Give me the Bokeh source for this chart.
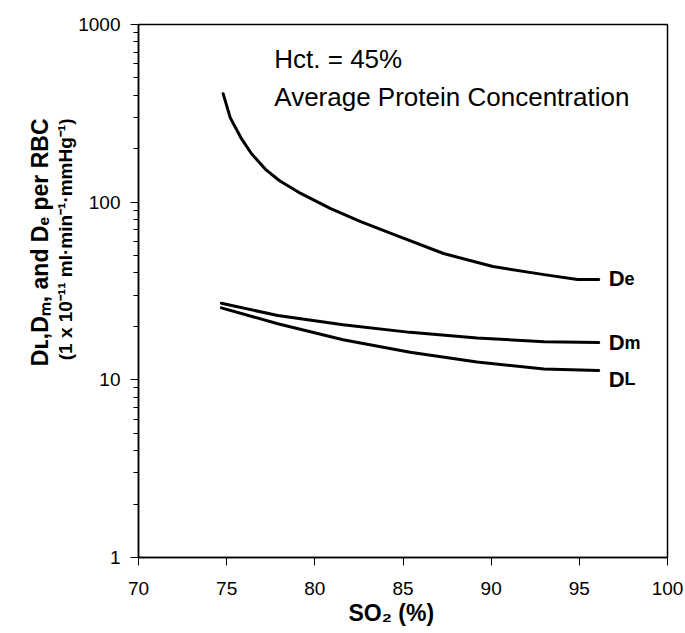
from bokeh.plotting import figure
from bokeh.models import Label, FixedTicker, NumeralTickFormatter, Range1d, Title
from bokeh.embed import file_html
from bokeh.resources import INLINE

# ---- data ----
so2_e = [74.8, 75.2, 75.8, 76.4, 77.2, 78.0, 79.2, 80.9, 82.6, 84.5, 87.3, 90.1, 93.0, 94.9, 96.1]
de = [408, 299, 231, 188, 153, 132, 112, 92, 77.8, 65.7, 51.4, 43.4, 39.1, 36.7, 36.7]
so2_md = [74.7, 77.9, 81.6, 85.4, 89.2, 93.0, 96.1]
dm = [27.0, 23.0, 20.4, 18.5, 17.2, 16.4, 16.2]
dl = [25.4, 20.7, 16.8, 14.3, 12.6, 11.5, 11.3]

x_ticks = [70, 75, 80, 85, 90, 95, 100]
y_ticks = [1, 10, 100, 1000]
y_minor = [k * 10 ** n for n in range(3) for k in range(2, 10)]

y_title_1 = "Dʟ,Dₘ, and Dₑ per RBC"
y_title_2 = "(1 x 10⁻¹¹ ml·min⁻¹·mmHg⁻¹)"
x_title = "SO₂ (%)"

FONT = "Liberation Sans"
WB = {'D': .722, 'e': .556, 'm': .889, 'L': .611}


def tw(s, size):
    return sum(WB.get(c, .556) for c in s) * size


W, H = 685, 633
FL, FT, FR, FB = 138, 24, 18, 76   # frame borders in px
p = figure(width=W, height=H, x_range=Range1d(70, 100), y_range=Range1d(1, 1000),
           y_axis_type="log", output_backend="svg", toolbar_location=None,
           min_border_left=FL, min_border_right=FR, min_border_top=FT, min_border_bottom=FB)
p.grid.visible = False
p.outline_line_color = "black"
p.outline_line_width = 1.5
p.background_fill_color = "white"
p.border_fill_color = "white"

for ax in (p.xaxis, p.yaxis):
    ax.axis_line_color = "black"
    ax.axis_line_width = 1.5
    ax.major_tick_in = 0
    ax.major_tick_out = 8
    ax.minor_tick_in = 0
    ax.major_tick_line_color = "black"
    ax.major_label_text_font = FONT
    ax.major_label_text_font_size = "19px"
    ax.major_label_text_color = "black"

p.xaxis.ticker = FixedTicker(ticks=x_ticks, minor_ticks=[])
p.xaxis.minor_tick_out = 0
p.xaxis.major_label_standoff = 16
p.yaxis.ticker = FixedTicker(ticks=y_ticks, minor_ticks=y_minor)
p.yaxis.formatter = NumeralTickFormatter(format="0")
p.yaxis.minor_tick_out = 5
p.yaxis.minor_tick_line_color = "black"
p.yaxis.major_label_standoff = 10

for xs, ys in ((so2_e, de), (so2_md, dm), (so2_md, dl)):
    p.line(xs, ys, line_width=3, line_color="black", line_join="round", line_cap="round")


def lab(**kw):
    base = dict(text_font=FONT, text_color="black", text_baseline="alphabetic",
                text_align="left")
    base.update(kw)
    p.add_layout(Label(**base))


def rich_h(x, y, segs, xoff=0, yoff=0):
    off = xoff
    for text, size in segs:
        lab(x=x, y=y, x_offset=off, y_offset=yoff, text=text,
            text_font_size=f"{size}px", text_font_style="bold")
        off += tw(text, size)


# curve labels
rich_h(so2_e[-1], de[-1], [("D", 22), ("e", 18)], xoff=10, yoff=1)
rich_h(so2_md[-1], dm[-1], [("D", 22), ("m", 18)], xoff=10, yoff=0)
rich_h(so2_md[-1], dl[-1], [("D", 22), ("L", 18)], xoff=10, yoff=-9)

# annotations
lab(x=77.7, y=643, text="Hct. = 45%", text_font_size="26px")
lab(x=77.7, y=393, text="Average Protein Concentration", text_font_size="26px")

# axis titles
t2 = Title(text=y_title_2, align="right", offset=94, standoff=0, text_font=FONT,
           text_font_size="19px", text_font_style="bold", text_color="black")
t1 = Title(text=y_title_1, align="right", offset=94, standoff=0, text_font=FONT,
           text_font_size="23px", text_font_style="bold", text_color="black")
p.add_layout(t2, "left")
p.add_layout(t1, "left")
tx = Title(text=x_title, align="left", offset=210, standoff=0, text_font=FONT,
           text_font_size="23px", text_font_style="bold", text_color="black")
p.add_layout(tx, "below")

open("out.html", "w").write(file_html(p, INLINE))
